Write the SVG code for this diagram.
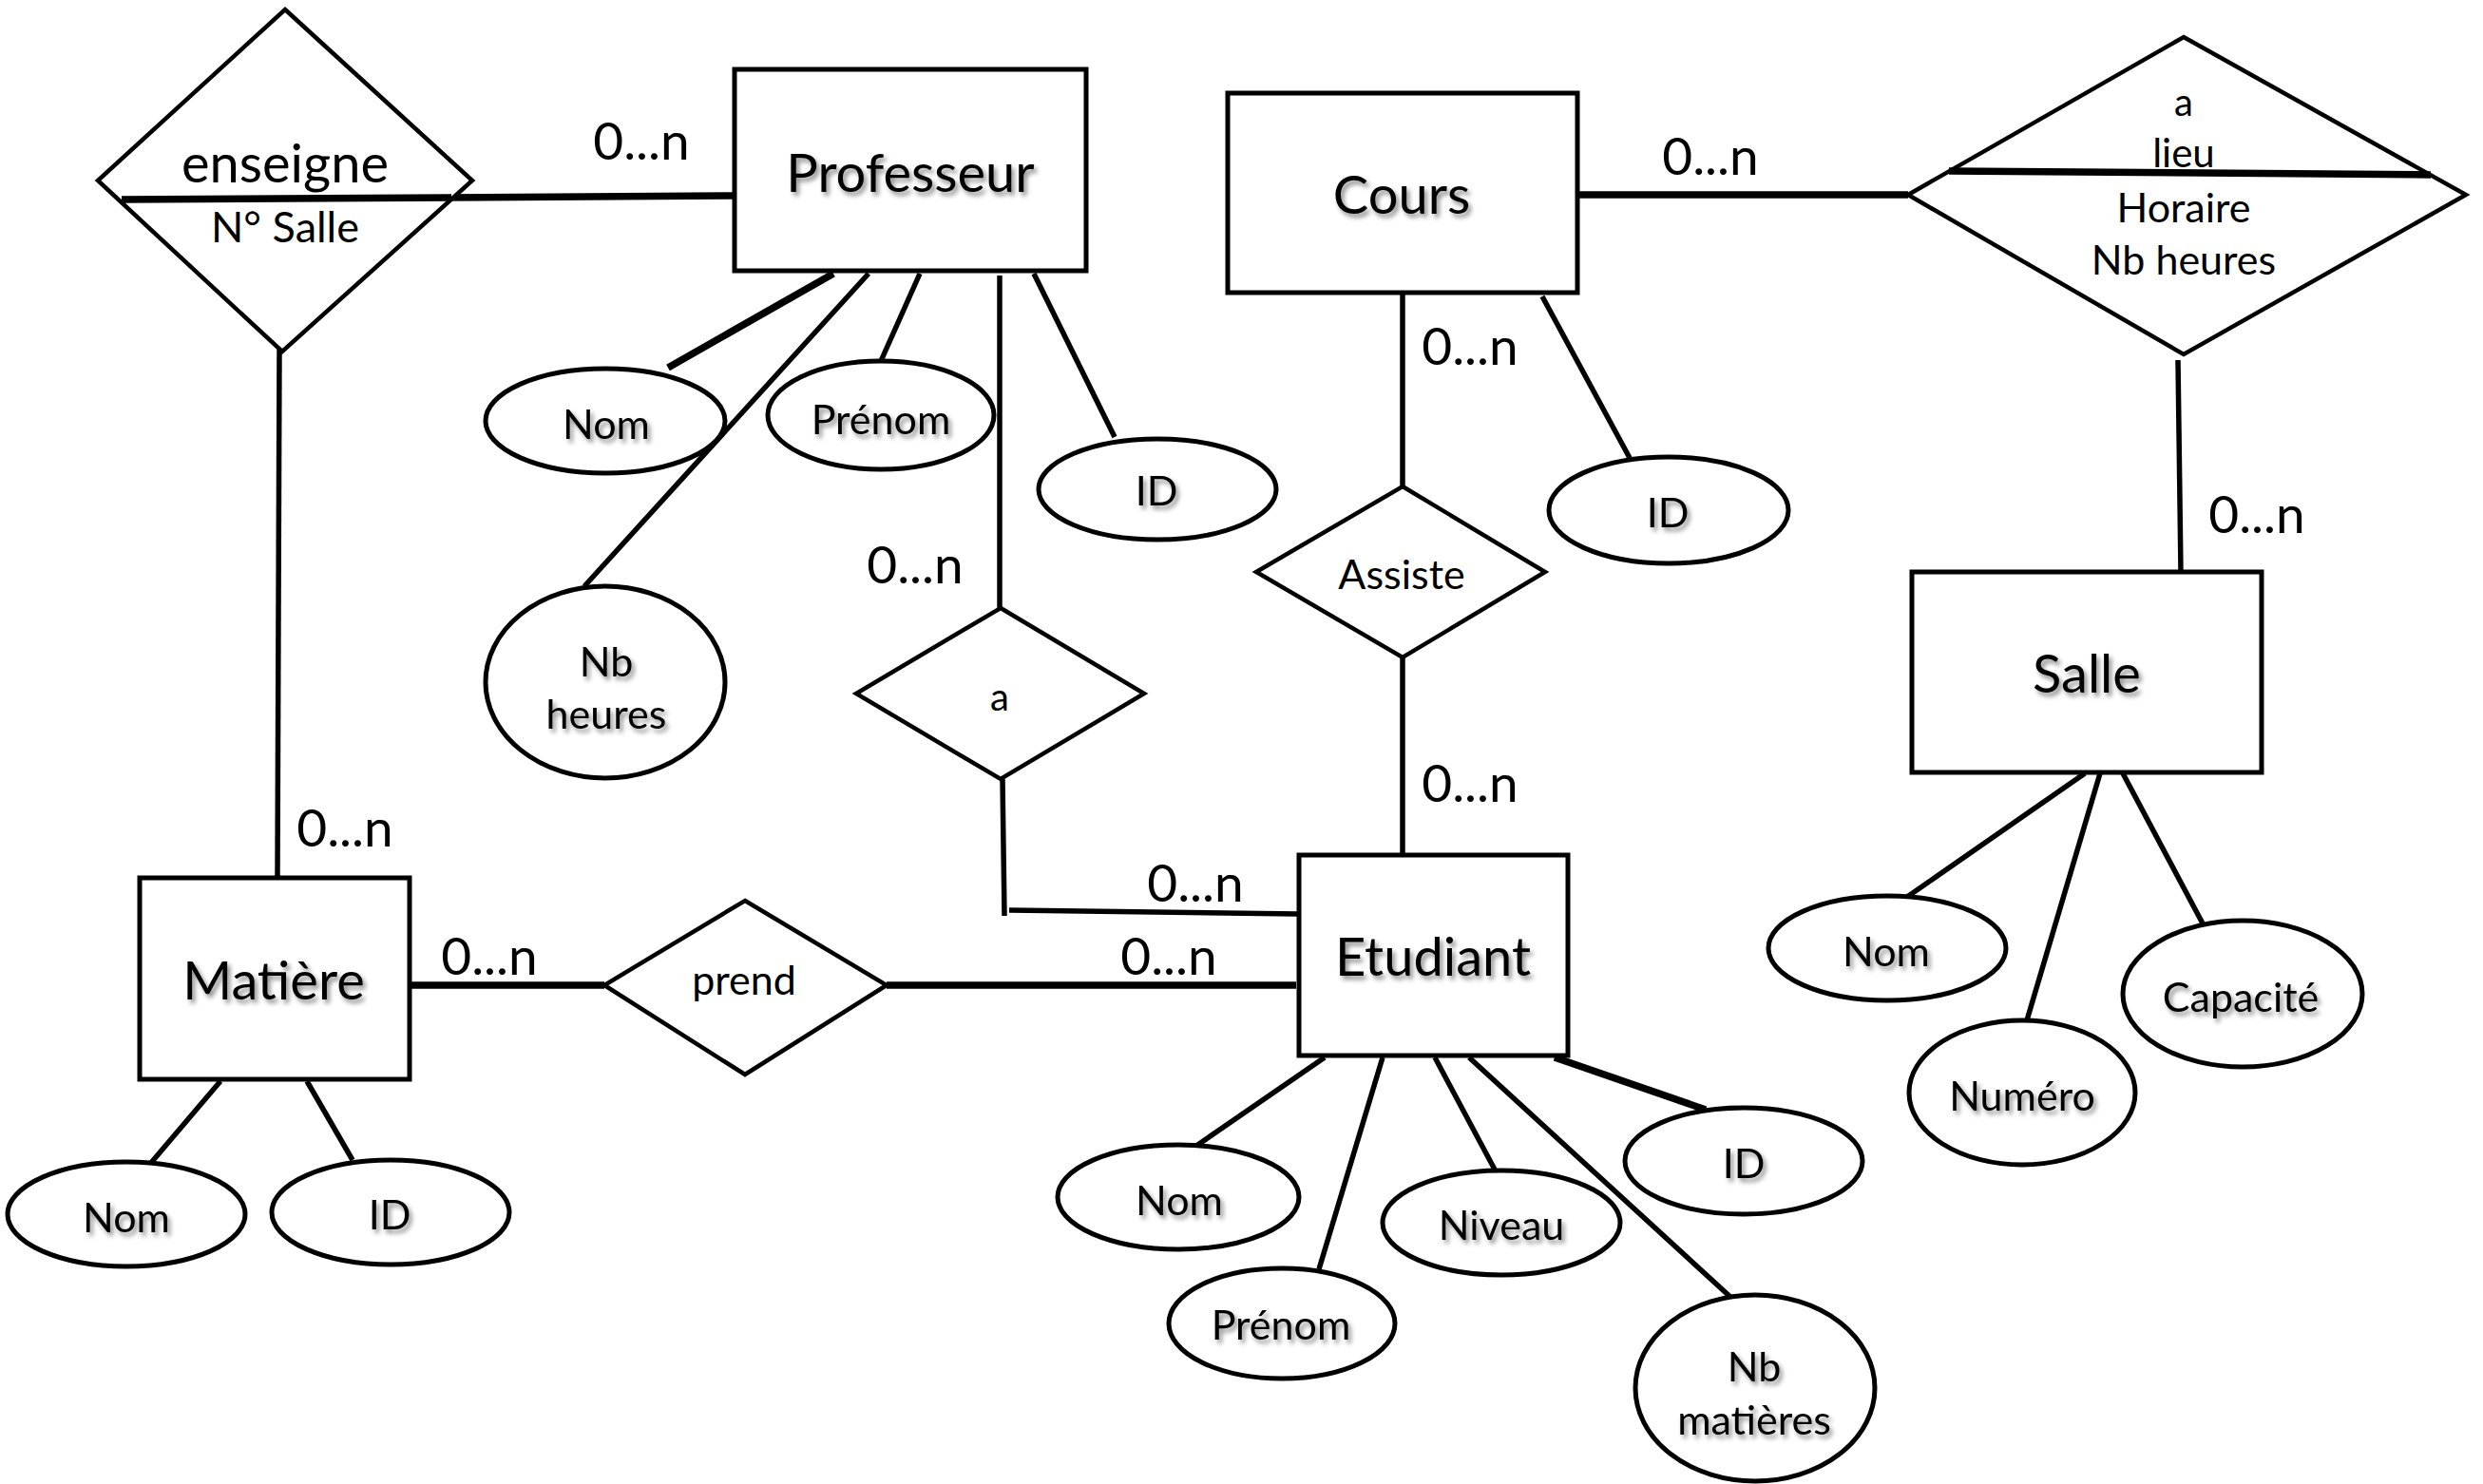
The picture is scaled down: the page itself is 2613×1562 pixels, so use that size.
<svg xmlns="http://www.w3.org/2000/svg" width="2613" height="1562" viewBox="0 0 2613 1562">
<defs>
<filter id="sh" x="-20%" y="-20%" width="140%" height="160%">
<feDropShadow dx="3" dy="4" stdDeviation="2.5" flood-color="#000" flood-opacity="0.45"/>
</filter>
</defs>
<style>
.box{fill:#fff;stroke:#000;stroke-width:5}
.dia{fill:#fff;stroke:#000;stroke-width:4.5}
.ell{fill:#fff;stroke:#000;stroke-width:5}
.ln{stroke:#000;stroke-width:5.5;fill:none}
.tk{stroke:#000;stroke-width:7.5;fill:none}
text{font-family:Lato,"Liberation Sans",sans-serif;text-anchor:middle;dominant-baseline:central;fill:#000}
.ent{font-size:56px;filter:url(#sh)}
.att{font-size:43px;filter:url(#sh)}
.rel{font-size:43px}
.card{font-size:55px}
</style>
<rect width="2613" height="1562" fill="#fff"/>

<g id="connectors">
<line class="tk" x1="128" y1="210" x2="773" y2="206"/>
<line class="ln" x1="294" y1="368" x2="292" y2="923"/>
<line class="tk" x1="432" y1="1037" x2="636" y2="1037"/>
<line class="tk" x1="933" y1="1037" x2="1364" y2="1037"/>
<line class="ln" x1="1052" y1="290" x2="1052" y2="640"/>
<polyline class="ln" points="1055,820 1057,964"/>
<line class="ln" x1="1062" y1="958" x2="1366" y2="962"/>
<line class="tk" x1="1657" y1="205" x2="2008" y2="205"/>
<line class="ln" x1="2292" y1="379" x2="2295" y2="602"/>
<line class="ln" x1="1476" y1="310" x2="1476" y2="512"/>
<line class="ln" x1="1476" y1="692" x2="1476" y2="900"/>
<line class="ln" x1="1623" y1="312" x2="1715" y2="482"/>
<line class="tk" x1="877" y1="288" x2="703" y2="387"/>
<line class="ln" x1="914" y1="288" x2="615" y2="617"/>
<line class="ln" x1="968" y1="288" x2="927" y2="380"/>
<line class="ln" x1="1088" y1="288" x2="1173" y2="460"/>
<line class="ln" x1="232" y1="1138" x2="158" y2="1225"/>
<line class="ln" x1="323" y1="1138" x2="371" y2="1221"/>
<line class="ln" x1="1394" y1="1113" x2="1259" y2="1206"/>
<line class="ln" x1="1455" y1="1113" x2="1388" y2="1336"/>
<line class="ln" x1="1510" y1="1113" x2="1573" y2="1231"/>
<line class="ln" x1="1546" y1="1113" x2="1822" y2="1366"/>
<line class="tk" x1="1636" y1="1113" x2="1795" y2="1168"/>
<line class="ln" x1="2194" y1="814" x2="2007" y2="944"/>
<line class="ln" x1="2210" y1="814" x2="2133" y2="1074"/>
<line class="ln" x1="2234" y1="814" x2="2318" y2="972"/>
</g>

<g id="enseigne">
<polygon class="dia" points="300,10 497,190 297,370 103,190"/>
<line class="tk" x1="128" y1="210" x2="475" y2="208"/>
<text class="rel" x="300" y="170" style="font-size:56px">enseigne</text>
<text class="rel" x="300" y="238" style="font-size:45px">N° Salle</text>
</g>

<g id="professeur">
<rect class="box" x="773" y="73" width="370" height="212"/>
<text class="ent" x="958" y="180">Professeur</text>
</g>
<g id="prof-nom"><ellipse class="ell" cx="637" cy="443" rx="126" ry="55"/><text class="att" x="638" y="445">Nom</text></g>
<g id="prof-prenom"><ellipse class="ell" cx="927" cy="437" rx="119" ry="57"/><text class="att" x="927" y="440">Prénom</text></g>
<g id="prof-id"><ellipse class="ell" cx="1218" cy="515" rx="125" ry="53"/><text class="att" x="1217" y="515">ID</text></g>
<g id="prof-nbheures"><ellipse class="ell" cx="637" cy="718" rx="126" ry="101"/><text class="att" x="638" y="695">Nb</text><text class="att" x="638" y="750">heures</text></g>

<g id="a">
<polygon class="dia" points="1053,640 1204,730 1053,820 901,730"/>
<text class="rel" x="1052" y="733" style="font-size:40px">a</text>
</g>

<g id="cours">
<rect class="box" x="1292" y="98" width="368" height="210"/>
<text class="ent" x="1475" y="203">Cours</text>
</g>
<g id="cours-id"><ellipse class="ell" cx="1756" cy="537" rx="126" ry="56"/><text class="att" x="1755" y="538">ID</text></g>

<g id="assiste">
<polygon class="dia" points="1476,512 1626,602 1476,692 1322,602"/>
<text class="rel" x="1475" y="603">Assiste</text>
</g>

<g id="a-lieu">
<polygon class="dia" points="2298,39 2595,205 2298,373 2008,205"/>
<line class="tk" x1="2051" y1="180" x2="2558" y2="184"/>
<text class="rel" x="2298" y="107" style="font-size:40px">a</text>
<text class="rel" x="2298" y="160" style="font-size:42px">lieu</text>
<text class="rel" x="2298" y="217">Horaire</text>
<text class="rel" x="2298" y="272">Nb heures</text>
</g>

<g id="salle">
<rect class="box" x="2012" y="602" width="368" height="211"/>
<text class="ent" x="2196" y="707">Salle</text>
</g>
<g id="salle-nom"><ellipse class="ell" cx="1986" cy="998" rx="125" ry="55"/><text class="att" x="1985" y="1000">Nom</text></g>
<g id="salle-numero"><ellipse class="ell" cx="2128" cy="1150" rx="119" ry="76"/><text class="att" x="2128" y="1152">Numéro</text></g>
<g id="salle-capacite"><ellipse class="ell" cx="2360" cy="1046" rx="126" ry="77"/><text class="att" x="2358" y="1048">Capacité</text></g>

<g id="matiere">
<rect class="box" x="147" y="924" width="284" height="212"/>
<text class="ent" x="288" y="1030">Matière</text>
</g>
<g id="matiere-nom"><ellipse class="ell" cx="133" cy="1278" rx="125" ry="55"/><text class="att" x="133" y="1280">Nom</text></g>
<g id="matiere-id"><ellipse class="ell" cx="411" cy="1276" rx="125" ry="55"/><text class="att" x="410" y="1277">ID</text></g>

<g id="prend">
<polygon class="dia" points="784,948 933,1037 784,1131 636,1037"/>
<text class="rel" x="783" y="1030">prend</text>
</g>

<g id="etudiant">
<rect class="box" x="1367" y="900" width="283" height="211"/>
<text class="ent" x="1508" y="1005">Etudiant</text>
</g>
<g id="etu-nom"><ellipse class="ell" cx="1240" cy="1260" rx="127" ry="55"/><text class="att" x="1241" y="1262">Nom</text></g>
<g id="etu-prenom"><ellipse class="ell" cx="1349" cy="1393" rx="119" ry="58"/><text class="att" x="1348" y="1393">Prénom</text></g>
<g id="etu-niveau"><ellipse class="ell" cx="1580" cy="1287" rx="125" ry="55"/><text class="att" x="1580" y="1288">Niveau</text></g>
<g id="etu-id"><ellipse class="ell" cx="1835" cy="1222" rx="125" ry="56"/><text class="att" x="1835" y="1223">ID</text></g>
<g id="etu-nbmatieres"><ellipse class="ell" cx="1847" cy="1461" rx="126" ry="98"/><text class="att" x="1846" y="1437">Nb</text><text class="att" x="1846" y="1493">matières</text></g>

<g id="cardinalities">
<text class="card" x="675" y="147">0...n</text>
<text class="card" x="363" y="870">0...n</text>
<text class="card" x="963" y="593">0...n</text>
<text class="card" x="515" y="1005">0...n</text>
<text class="card" x="1230" y="1005">0...n</text>
<text class="card" x="1258" y="928">0...n</text>
<text class="card" x="1800" y="163">0...n</text>
<text class="card" x="1547" y="363">0...n</text>
<text class="card" x="1547" y="823">0...n</text>
<text class="card" x="2375" y="540">0...n</text>
</g>
</svg>
